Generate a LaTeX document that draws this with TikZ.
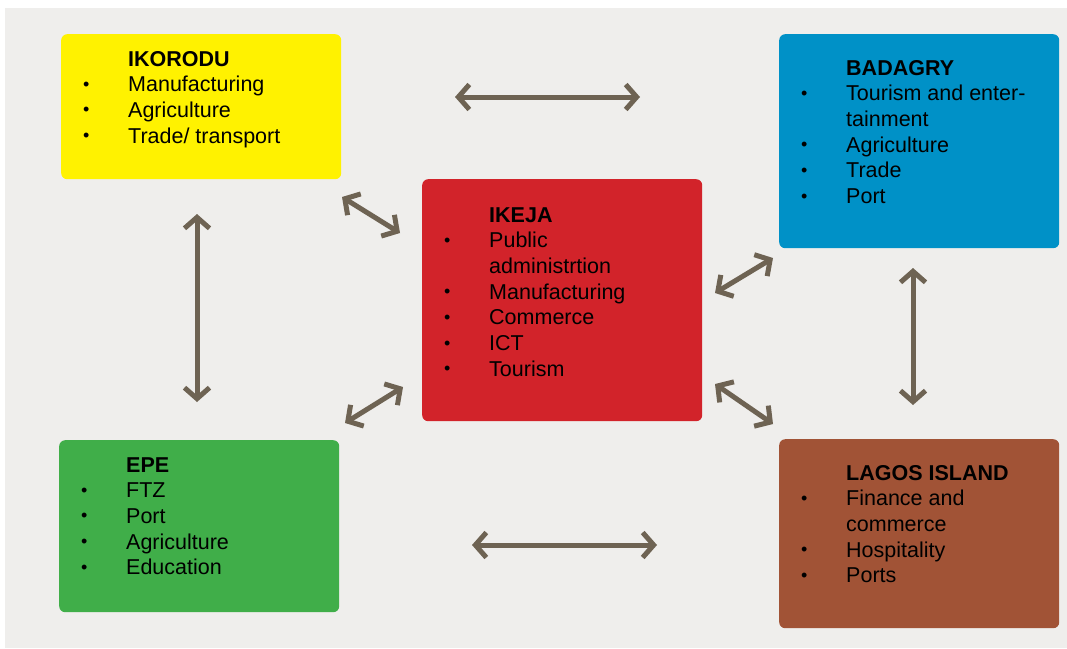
\documentclass[tikz,border=0pt]{standalone}
\usepackage{fontspec}
\setmainfont{Liberation Sans}
\usetikzlibrary{arrows.meta}

\definecolor{bggray}{HTML}{EFEEEC}
\definecolor{ikoyellow}{HTML}{FFF200}
\definecolor{badblue}{HTML}{0091C7}
\definecolor{ikered}{HTML}{D2232A}
\definecolor{epegreen}{HTML}{40AE49}
\definecolor{lagbrown}{HTML}{A15336}
\definecolor{linkgray}{HTML}{6E6353}

\newcommand\itm{\makebox[45pt][l]{\raisebox{1.5pt}{\fontsize{18}{18}\selectfont\textbullet}}}
\newcommand\gap{\hspace*{45pt}}

\tikzset{
  zone/.style={rounded corners=6pt, minimum width=280pt, anchor=north west, inner sep=0pt},
  % text is placed by the baseline of its last line
  zonetext/.style={anchor=base west, align=left, inner sep=0pt,
    font=\fontsize{21.5}{25.7}\selectfont},
  link/.style={linkgray, line width=5pt,
    {Straight Barb[length=11pt,width=25pt]}-{Straight Barb[length=11pt,width=25pt]}}
}

\begin{document}
\begin{tikzpicture}[x=1pt, y=-1pt]
   \useasboundingbox (0,0) rectangle (1067,648);
   \fill[bggray] (5,8) rectangle (1067,648);
   % zones
   \node[zone, fill=ikoyellow, minimum height=145pt] (ikorodu) at (61,34) {};
   \node[zone, fill=ikered, minimum height=242pt] (ikeja) at (422,179) {};
   \node[zone, fill=badblue, minimum height=214pt] (badagry) at (779,34) {};
   \node[zone, fill=epegreen, minimum height=172pt] (epe) at (59,440) {};
   \node[zone, fill=lagbrown, minimum height=189pt] (lagos) at (779,439) {};
   % zone texts
   \node[zonetext] (ikorodu-txt) at ([shift={(22,109.1)}]ikorodu.north west)
     {\gap\textbf{IKORODU}\\\itm Manufacturing\\\itm Agriculture\\\itm Trade/ transport};
   \node[zonetext] (ikeja-txt) at ([shift={(22,197.2)}]ikeja.north west)
     {\gap\textbf{IKEJA}\\\itm Public\\\gap administrtion\\\itm Manufacturing\\\itm Commerce\\\itm ICT\\\itm Tourism};
   \node[zonetext] (badagry-txt) at ([shift={(22,169.5)}]badagry.north west)
     {\gap\textbf{BADAGRY}\\\itm Tourism and enter-\\\gap tainment\\\itm Agriculture\\\itm Trade\\\itm Port};
   \node[zonetext] (epe-txt) at ([shift={(22,134.8)}]epe.north west)
     {\gap\textbf{EPE}\\\itm FTZ\\\itm Port\\\itm Agriculture\\\itm Education};
   \node[zonetext] (lagos-txt) at ([shift={(22,143.8)}]lagos.north west)
     {\gap\textbf{LAGOS ISLAND}\\\itm Finance and\\\gap commerce\\\itm Hospitality\\\itm Ports};
   % link ends
   \coordinate (ikba-a) at (455,97);
   \coordinate (ikba-b) at (640,97);
   \coordinate (ikep-a) at (197,214);
   \coordinate (ikep-b) at (197,402);
   \coordinate (bala-a) at (913,268);
   \coordinate (bala-b) at (913,405);
   \coordinate (epla-a) at (472,545);
   \coordinate (epla-b) at (657,545);
   \coordinate (ikij-a) at (342,197);
   \coordinate (ikij-b) at (400,233);
   \coordinate (ijba-a) at (715,293);
   \coordinate (ijba-b) at (773,258);
   \coordinate (ijep-a) at (403,387);
   \coordinate (ijep-b) at (345,423);
   \coordinate (ijla-a) at (715,384);
   \coordinate (ijla-b) at (773,424);
   \foreach \s in {ikba,ikep,bala,epla,ikij,ijba,ijep,ijla}
     \draw[link] (\s-a) -- (\s-b);
\end{tikzpicture}
\end{document}
